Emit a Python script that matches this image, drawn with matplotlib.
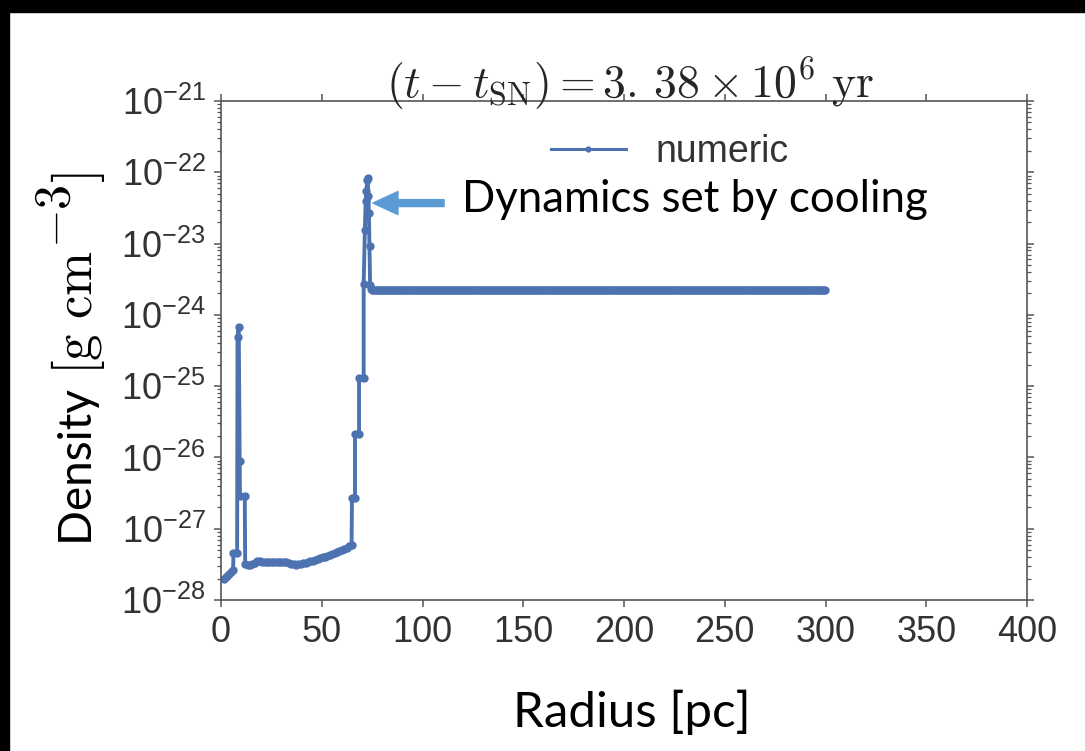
import numpy as np
import matplotlib
matplotlib.use('Agg')
import matplotlib.pyplot as plt
from matplotlib.patches import Rectangle
from matplotlib.ticker import NullFormatter

plt.rcParams['mathtext.fontset'] = 'custom'
plt.rcParams['mathtext.rm'] = 'Liberation Sans'
plt.rcParams['mathtext.it'] = 'Liberation Sans:italic'
plt.rcParams['mathtext.default'] = 'it'
plt.rcParams['font.family'] = ['Liberation Sans', 'DejaVu Sans']

# density profile inside the remnant (pc, g cm^-3)
radius_inner = [1.5, 2.3, 3.2, 4.1, 5.0, 6.0, 6.2, 8.0, 8.2, 8.8, 9.3, 9.4, 11.8,
                12.0, 13.2, 14.4, 15.6, 16.8, 18.0, 19.2, 20.4, 21.6, 22.8, 24.0,
                25.2, 26.4, 27.6, 28.8, 30.0, 31.2, 32.4, 33.6, 34.8, 36.0, 37.2,
                38.4, 39.6, 40.8, 42.0, 43.2, 44.4, 45.6, 46.8, 48.0, 49.2, 50.4,
                51.6, 52.8, 54.0, 55.2, 56.4, 57.6, 58.8, 60.0, 61.2, 62.4, 63.6,
                64.8, 65.0, 66.5, 66.5, 68.5, 68.5, 70.8, 70.8, 71.4, 71.8, 72.2,
                72.5, 72.8, 73.1, 73.4, 73.7, 74.0, 74.3]
density_inner = [2.00e-28, 2.10e-28, 2.20e-28, 2.30e-28, 2.45e-28, 2.60e-28,
                 4.6e-28, 4.6e-28, 4.9e-25, 6.7e-25, 9.0e-27, 2.9e-27, 2.9e-27,
                 3.15e-28, 3.05e-28, 3.10e-28, 3.20e-28, 3.35e-28, 3.50e-28,
                 3.55e-28, 3.45e-28, 3.42e-28, 3.40e-28, 3.40e-28, 3.40e-28,
                 3.40e-28, 3.40e-28, 3.40e-28, 3.40e-28, 3.38e-28, 3.36e-28,
                 3.32e-28, 3.25e-28, 3.15e-28, 3.10e-28, 3.15e-28, 3.22e-28,
                 3.28e-28, 3.35e-28, 3.42e-28, 3.50e-28, 3.58e-28, 3.66e-28,
                 3.75e-28, 3.85e-28, 3.95e-28, 4.05e-28, 4.15e-28, 4.30e-28,
                 4.45e-28, 4.60e-28, 4.75e-28, 4.90e-28, 5.05e-28, 5.25e-28,
                 5.45e-28, 5.65e-28, 5.90e-28, 2.7e-27, 2.7e-27, 2.1e-26, 2.1e-26,
                 1.3e-25, 1.3e-25, 2.75e-24, 1.56e-23, 3.9e-23, 5.4e-23, 7.8e-23,
                 8.3e-23, 4.6e-23, 2.7e-23, 9.1e-24, 2.6e-24, 2.3e-24]

# undisturbed ambient medium out to the box edge
plateau_start = 74.8
plateau_end = 300.0
plateau_step = 0.75
plateau_density = 2.24e-24

x_ticks = [0, 50, 100, 150, 200, 250, 300, 350, 400]
y_decades = [-28, -27, -26, -25, -24, -23, -22, -21]

radius_outer = np.arange(plateau_start, plateau_end + 1e-6, plateau_step)
radius = np.concatenate([radius_inner, radius_outer])
density = np.concatenate([density_inner, np.full(len(radius_outer), plateau_density)])

W, H = 1085, 751
fig = plt.figure(figsize=(W / 100, H / 100), dpi=100)
ax = fig.add_axes([221 / W, 1 - 600 / H, (1027 - 221) / W, (600 - 101) / H])

ax.semilogy(radius, density, '-o', color='#4C72B0', lw=2.8, ms=6,
            markeredgewidth=0, label='numeric')

ax.set_xlim(0, 400)
ax.set_ylim(1e-28, 1e-21)
ax.set_xticks(x_ticks)
ax.set_yticks([10.0 ** d for d in y_decades],
              [r'$\mathrm{10^{%d}}$' % d for d in y_decades])
ax.set_yticks([k * 10.0 ** d for d in y_decades[:-1] for k in range(2, 10)], minor=True)
ax.yaxis.set_minor_formatter(NullFormatter())

for s in ax.spines.values():
    s.set_color('#555555')
    s.set_linewidth(1.2)
ax.tick_params(which='both', direction='out', top=True, right=True,
               color='#555555', labelcolor='#333333', labelsize=26)
ax.tick_params(which='major', length=5, width=1.1, pad=6)
ax.tick_params(which='minor', length=3, width=0.9)

leg = ax.legend(loc='center', bbox_to_anchor=(670 / W, 1 - 152 / H),
                bbox_transform=fig.transFigure, frameon=False, fontsize=27,
                labelcolor='#333333')
leg.legend_handles[0].set_markersize(4.5)
leg.legend_handles[0].set_linewidth(2.2)

fig.text(630 / W, 1 - 84 / H,
         r'$(t - t_{\rm SN}) = 3.\,38 \times 10^6\ {\rm yr}$',
         ha='center', va='center', fontsize=33, color='#262626',
         math_fontfamily='cm')

# annotation arrow pointing at the shell spike
ax.annotate('', xy=(75.4, 3.7e-23), xytext=(110.7, 3.7e-23),
            arrowprops=dict(arrowstyle='simple,head_length=1.8,head_width=1.66,tail_width=0.5',
                            color='#5B9BD5', shrinkA=0, shrinkB=0, mutation_scale=10))
fig.text(462 / W, 1 - 200 / H, 'Dynamics set by cooling', ha='left', va='center',
         fontsize=31.5, family='Lato', color='black')

fig.text(632 / W, 1 - 712 / H, 'Radius [pc]', ha='center', va='center',
         fontsize=35.5, family='Lato', color='black')

# y label built from pieces stacked bottom to top (big raised exponent)
renderer = fig.canvas.get_renderer()
y_px = H - 545
x_base = 92
ylabel_parts = [('Density ', 33, 'Lato', 'dejavusans', 0),
                (r'$[\mathrm{g\ cm}$', 38, 'Lato', 'cm', 0),
                (r'$\mathrm{-3}$', 36, 'Lato', 'cm', 22),
                (r'$]$', 38, 'Lato', 'cm', 0)]
for txt, size, fam, mfam, raise_px in ylabel_parts:
    t = fig.text((x_base - raise_px) / W, y_px / H, txt, rotation=90,
                 rotation_mode='anchor', ha='left', va='baseline',
                 fontsize=size, family=fam, color='black', math_fontfamily=mfam)
    y_px = t.get_window_extent(renderer).y1 + 2

# black frame strips along the top and left edges
fig.patches.append(Rectangle((0, 1 - 12 / H), 1, 12 / H, transform=fig.transFigure,
                             color='black', zorder=10))
fig.patches.append(Rectangle((0, 0), 9 / W, 1, transform=fig.transFigure,
                             color='black', zorder=10))

fig.savefig('out.png', dpi=100)
